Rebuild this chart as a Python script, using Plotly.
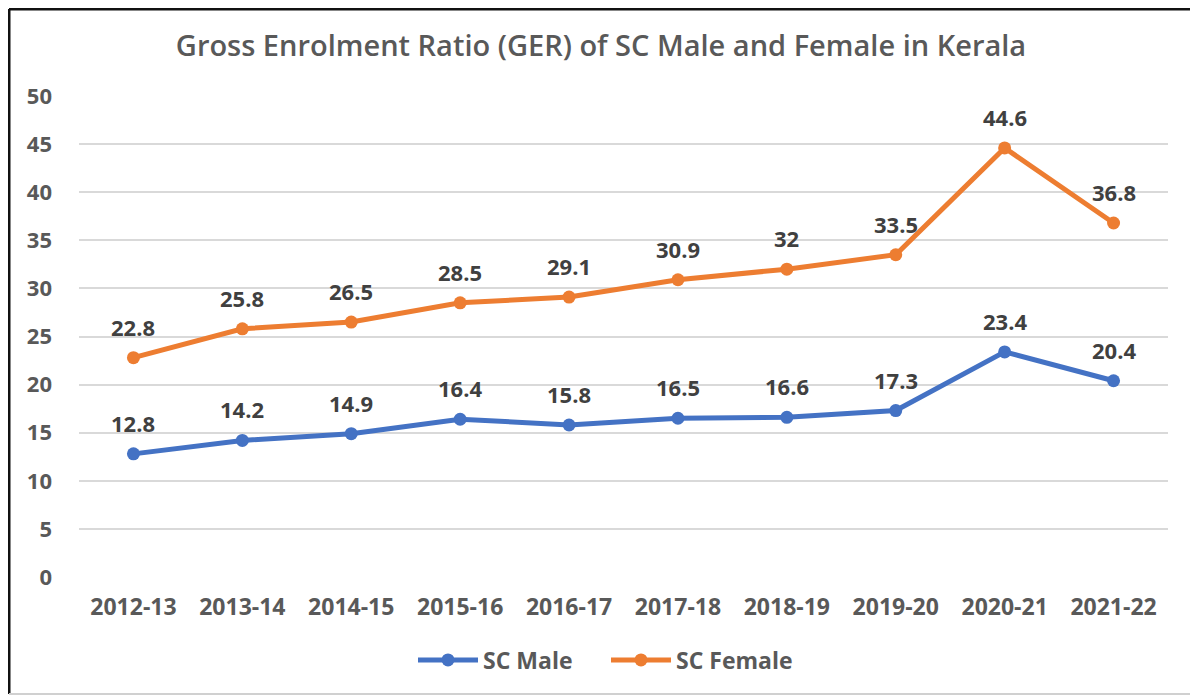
import plotly.graph_objects as go

years = ["2012-13", "2013-14", "2014-15", "2015-16", "2016-17",
         "2017-18", "2018-19", "2019-20", "2020-21", "2021-22"]
sc_male = [12.8, 14.2, 14.9, 16.4, 15.8, 16.5, 16.6, 17.3, 23.4, 20.4]
sc_female = [22.8, 25.8, 26.5, 28.5, 29.1, 30.9, 32, 33.5, 44.6, 36.8]
y_ticks = [0, 5, 10, 15, 20, 25, 30, 35, 40, 45, 50]

BLUE = "#4472C4"
ORANGE = "#ED7D31"
TXT = "#595959"
LBL = "#404040"
FONT = "Open Sans"

fig = go.Figure()
fig.add_trace(go.Scatter(x=years, y=sc_male, mode="lines+markers", name="SC Male",
                         line=dict(color=BLUE, width=5),
                         marker=dict(color=BLUE, size=13)))
fig.add_trace(go.Scatter(x=years, y=sc_female, mode="lines+markers", name="SC Female",
                         line=dict(color=ORANGE, width=5),
                         marker=dict(color=ORANGE, size=13)))

annotations = []
for series in (sc_male, sc_female):
    for x, v in zip(years, series):
        annotations.append(dict(x=x, y=v, text=f"{v:g}", showarrow=False, yshift=31,
                                font=dict(family=FONT, size=22, color=LBL, weight=700)))

fig.update_layout(
    width=1198, height=698,
    paper_bgcolor="white", plot_bgcolor="white",
    margin=dict(l=71, r=38, t=88, b=129),
    title=dict(text="Gross Enrolment Ratio (GER) of SC Male and Female in Kerala",
               x=(601 - 79) / 1089, xref="paper", xanchor="center",
               y=1 - 38 / 698, yanchor="middle",
               font=dict(family=FONT, size=29, color=TXT, weight=600)),
    xaxis=dict(type="category", range=[-0.5, 9.5], showgrid=False, zeroline=False,
               showline=False, ticks="", ticklabelstandoff=14,
               tickfont=dict(family=FONT, size=23, color=TXT, weight=700)),
    yaxis=dict(range=[0, 50], tickvals=y_ticks, showgrid=True, gridcolor="#D9D9D9",
               gridwidth=2, zeroline=False, showline=False, ticks="",
               ticklabelstandoff=26,
               tickfont=dict(family=FONT, size=22, color=TXT, weight=700)),
    legend=dict(orientation="h", x=(606 - 79) / 1089, xanchor="center",
                y=-(660 - 577) / 481, yanchor="middle",
                font=dict(family=FONT, size=23, color=TXT, weight=700),
                itemwidth=60, entrywidth=118),
    annotations=annotations,
    showlegend=True,
)

# chart frame (dark top/left edge, light right/bottom edge, as in the screenshot)
def px_x(p):
    return (p - 79) / 1089

def px_y(p):
    return (577 - p) / 481

fig.add_shape(type="line", xref="paper", yref="paper", x0=px_x(9), x1=px_x(1196),
              y0=px_y(9), y1=px_y(9), line=dict(color="#111111", width=3))
fig.add_shape(type="line", xref="paper", yref="paper", x0=px_x(9), x1=px_x(9),
              y0=px_y(9), y1=px_y(694), line=dict(color="#111111", width=3))
fig.add_shape(type="line", xref="paper", yref="paper", x0=px_x(1196), x1=px_x(1196),
              y0=px_y(9), y1=px_y(694), line=dict(color="#D0D0D0", width=2))
fig.add_shape(type="line", xref="paper", yref="paper", x0=px_x(9), x1=px_x(1196),
              y0=px_y(694), y1=px_y(694), line=dict(color="#D0D0D0", width=2))

fig.write_html("out.html")
